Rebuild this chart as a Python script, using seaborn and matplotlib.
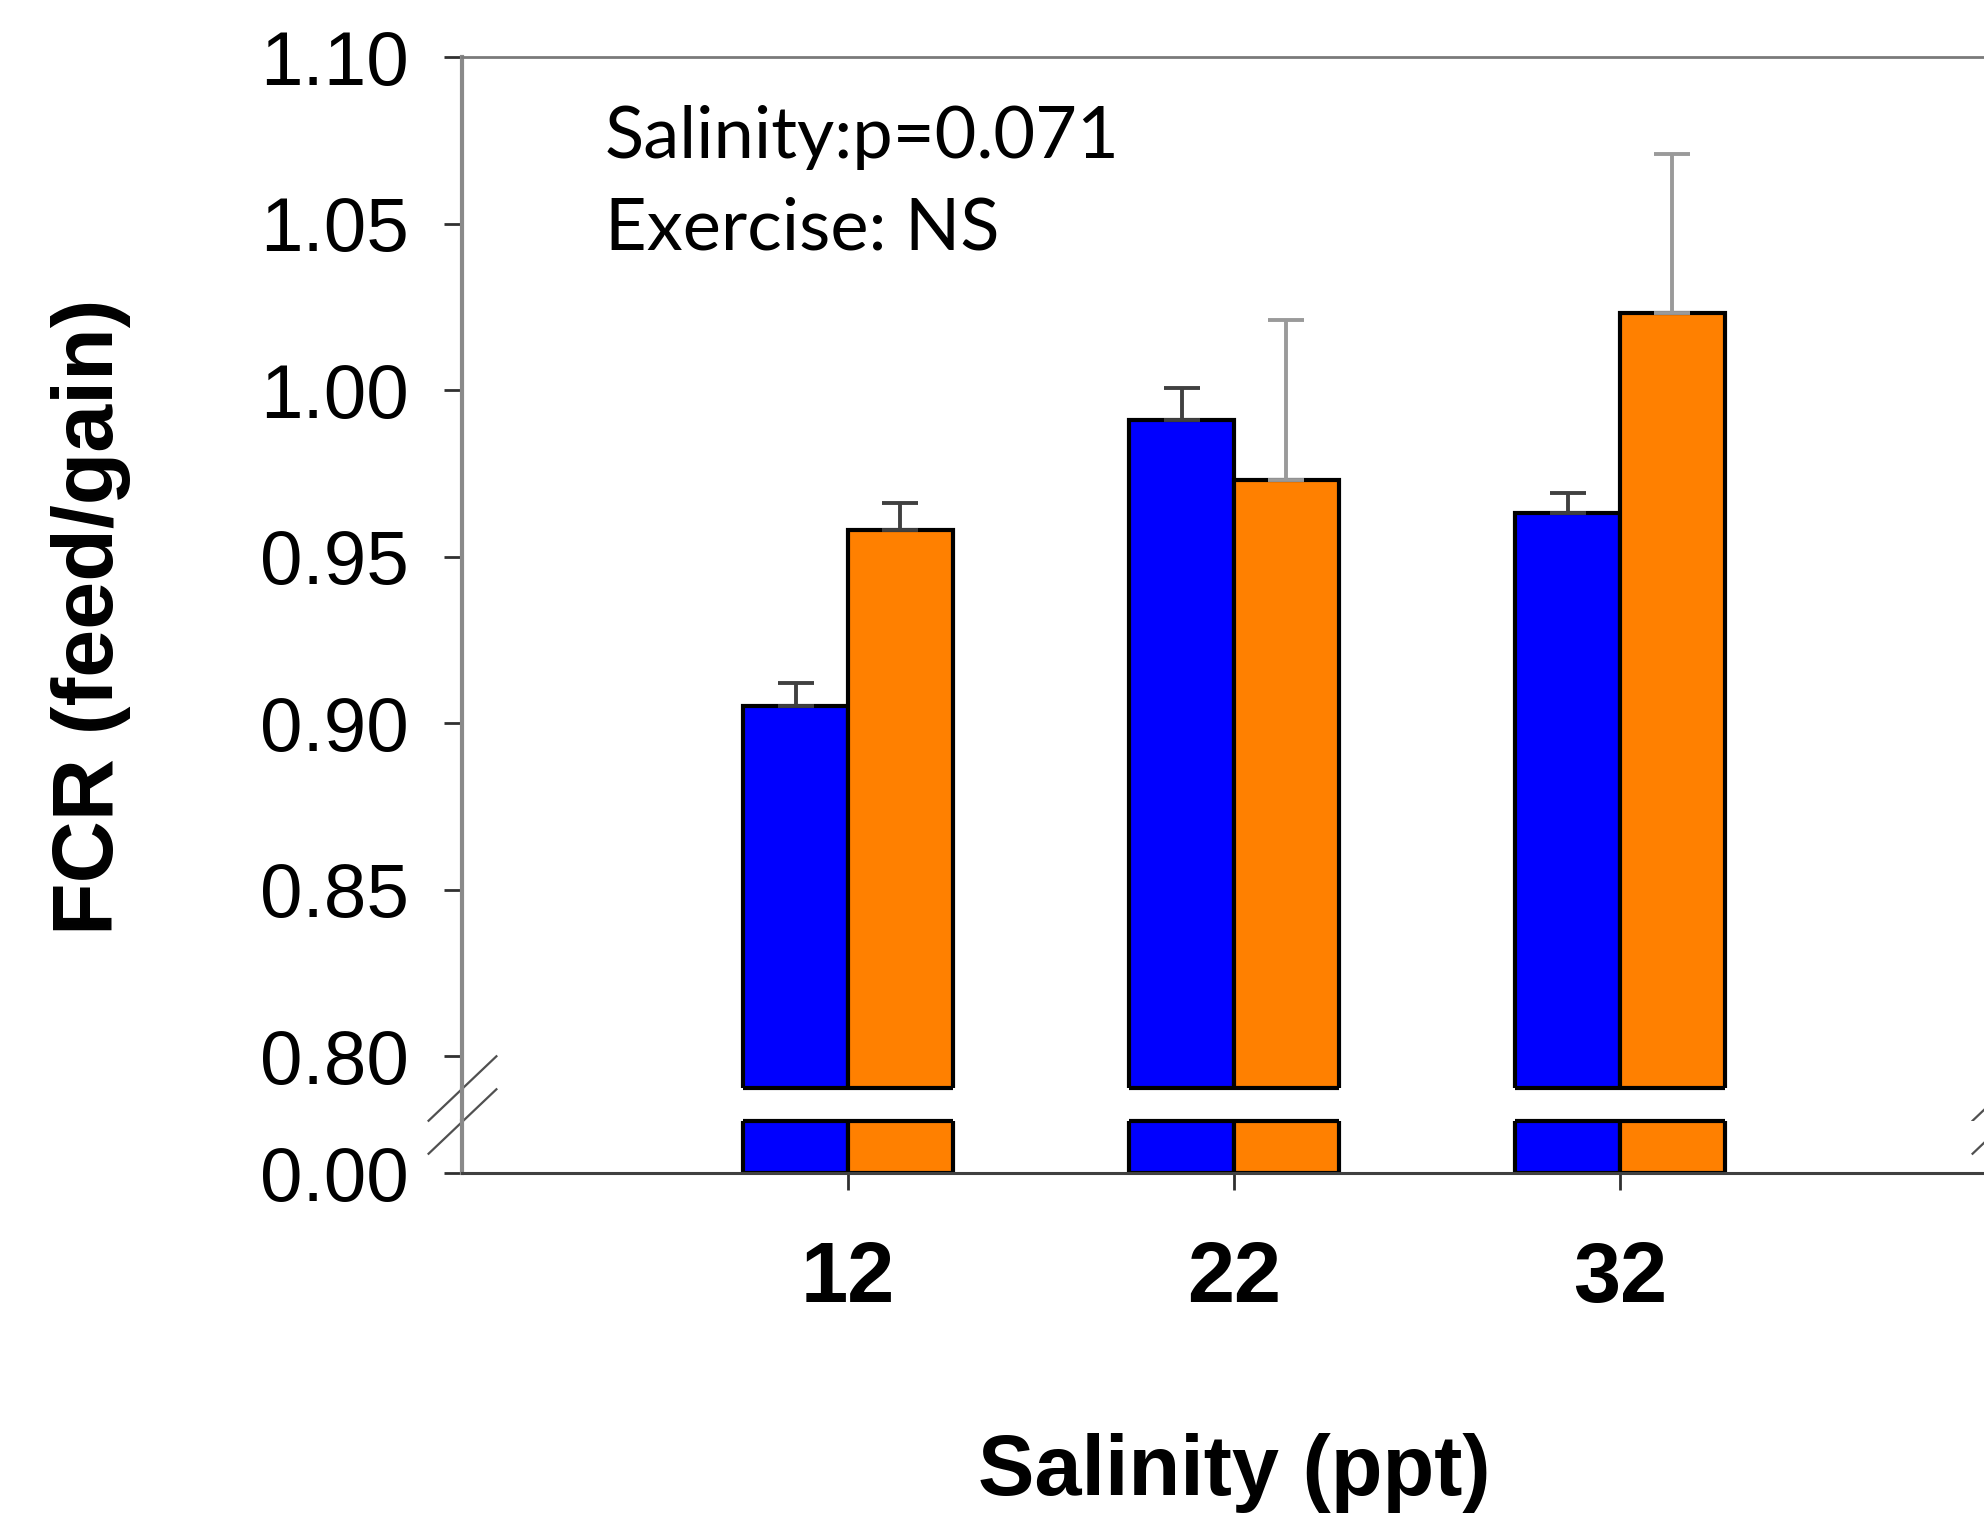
import pandas as pd
import numpy as np
import matplotlib
import matplotlib.pyplot as plt
from matplotlib.lines import Line2D
import seaborn as sns

# data
salinity = ['12', '22', '32']
groups = ['Control', 'Exercise']
fcr_control = [0.905, 0.991, 0.963]
fcr_exercise = [0.958, 0.973, 1.023]
se_control = [0.007, 0.0095, 0.006]
se_exercise = [0.008, 0.048, 0.048]
y_ticks = [0.80, 0.85, 0.90, 0.95, 1.00, 1.05, 1.10]

df = pd.DataFrame({
    'salinity': salinity * 2,
    'exercise': [groups[0]] * 3 + [groups[1]] * 3,
    'fcr': fcr_control + fcr_exercise,
})
errs = {groups[0]: se_control, groups[1]: se_exercise}
err_colors = {groups[0]: ['#404040'] * 3, groups[1]: ['#404040', '#9a9a9a', '#9a9a9a']}

sns.set_style('white')
plt.rcParams['font.family'] = ['Liberation Sans', 'DejaVu Sans']
for k in ('text.color', 'axes.labelcolor', 'xtick.labelcolor', 'ytick.labelcolor'):
    plt.rcParams[k] = 'black'

W, H = 1984, 1516
fig = plt.figure(figsize=(W / 100, H / 100), dpi=100)
left = 462 / W
axw = (2006 - 462) / W
ax_top = fig.add_axes([left, 1 - 1088 / H, axw, (1088 - 57) / H])
ax_bot = fig.add_axes([left, 1 - 1173 / H, axw, (1173 - 1121) / H])

pal = ['#0000ff', '#ff8000']
for ax in (ax_top, ax_bot):
    sns.barplot(data=df, x='salinity', y='fcr', hue='exercise',
                order=salinity, hue_order=groups, palette=pal,
                saturation=1, width=0.544, edgecolor='black', linewidth=3,
                errorbar=None, legend=False, ax=ax)
    ax.set_xlim(-1, 3)
    ax.set_xlabel('')
    ax.set_ylabel('')
    ax.spines['right'].set_visible(False)
    ax.spines['left'].set_color('#8a8a8a')
    ax.spines['left'].set_linewidth(3)

ylo = 0.7904
ax_top.set_ylim(ylo, 1.10)
ax_bot.set_ylim(0, 0.02)

# one-sided error bars on top of each bar
for cont, g in zip(ax_top.containers, groups):
    for bar, e, c in zip(cont.patches, errs[g], err_colors[g]):
        xc = bar.get_x() + bar.get_width() / 2
        ax_top.errorbar(xc, bar.get_height(), yerr=[[0], [e]], fmt='none',
                        ecolor=c, elinewidth=2.8, capsize=13, capthick=2.8, zorder=1)

# closing edges of bars at the break
for p in ax_top.patches:
    ax_top.hlines(ylo, p.get_x(), p.get_x() + p.get_width(), color='black',
                  linewidth=3, clip_on=False, zorder=3)
for p in ax_bot.patches:
    ax_bot.hlines(0.02, p.get_x(), p.get_x() + p.get_width(), color='black',
                  linewidth=3, clip_on=False, zorder=3)

ax_top.spines['bottom'].set_visible(False)
ax_top.spines['top'].set_color('#7a7a7a')
ax_top.spines['top'].set_linewidth(2)
ax_top.set_yticks(y_ticks)
ax_top.set_yticklabels([f'{v:.2f}' for v in y_ticks])
ax_top.tick_params(axis='x', bottom=False, labelbottom=False)
ax_top.tick_params(axis='y', left=True, direction='out', length=13, width=2,
                   color='#303030', labelsize=55, pad=25)

ax_bot.spines['top'].set_visible(False)
ax_bot.spines['bottom'].set_color('#404040')
ax_bot.spines['bottom'].set_linewidth(2.2)
ax_bot.set_yticks([0])
ax_bot.set_yticklabels(['0.00'])
ax_bot.tick_params(axis='y', left=True, direction='out', length=13, width=2,
                   color='#303030', labelsize=55, pad=25)
ax_bot.tick_params(axis='x', bottom=True, direction='out', length=12, width=2,
                   color='#303030', labelsize=61, pad=36)
for lab in ax_bot.get_xticklabels():
    lab.set_fontweight('bold')

# left spine across the gap
fig.add_artist(Line2D([left, left], [1 - 1121 / H, 1 - 1088 / H],
                      color='#8a8a8a', linewidth=3))

# break marks
mk = dict(marker=[(-1, -0.95), (1, 0.95)], markersize=50, linestyle='none',
          color='#505050', mec='#505050', mew=1.6, clip_on=False)
ax_top.plot([0, 1], [0, 0], transform=ax_top.transAxes, **mk)
ax_bot.plot([0, 1], [1, 1], transform=ax_bot.transAxes, **mk)

ax_bot.set_xlabel('Salinity (ppt)', fontsize=61, fontweight='bold')
ax_bot.xaxis.set_label_coords(0.5, -5.0)
fig.text(91 / W, 1 - 617 / H, 'FCR (feed/gain)', rotation=90, fontsize=62,
         fontweight='bold', ha='center', va='center')

fig.text(605 / W, 1 - 158 / H, 'Salinity:p=0.071', fontsize=52,
         family=['Lato', 'DejaVu Sans'], va='baseline')
fig.text(605 / W, 1 - 249 / H, 'Exercise: NS', fontsize=52,
         family=['Lato', 'DejaVu Sans'], va='baseline')

fig.savefig('out.png', dpi=100)
